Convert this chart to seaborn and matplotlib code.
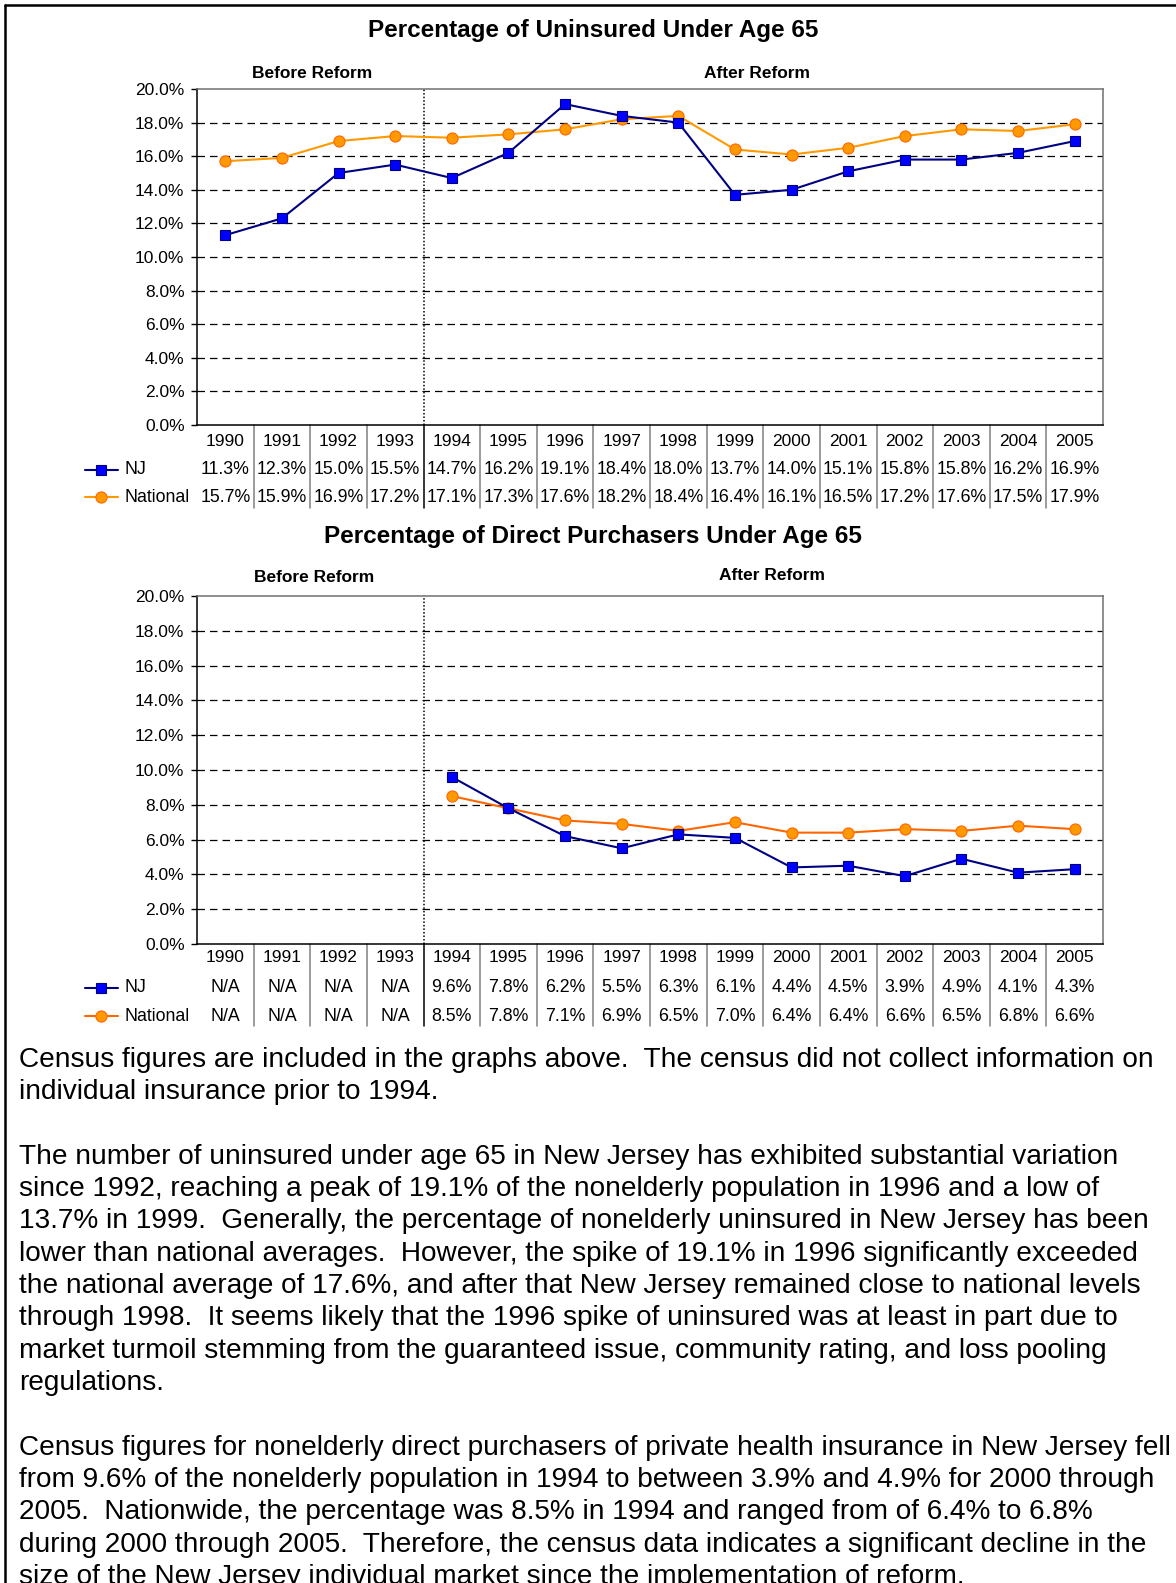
import numpy as np
import pandas as pd
import matplotlib.pyplot as plt
import seaborn as sns
from matplotlib.lines import Line2D
from matplotlib.transforms import blended_transform_factory

# ======================================================
# DATA
# ======================================================
years = [str(y) for y in range(1990, 2006)]

nj_uninsured = [11.3, 12.3, 15.0, 15.5, 14.7, 16.2, 19.1, 18.4,
                18.0, 13.7, 14.0, 15.1, 15.8, 15.8, 16.2, 16.9]
nat_uninsured = [15.7, 15.9, 16.9, 17.2, 17.1, 17.3, 17.6, 18.2,
                 18.4, 16.4, 16.1, 16.5, 17.2, 17.6, 17.5, 17.9]

nan = np.nan
nj_direct = [nan, nan, nan, nan, 9.6, 7.8, 6.2, 5.5,
             6.3, 6.1, 4.4, 4.5, 3.9, 4.9, 4.1, 4.3]
nat_direct = [nan, nan, nan, nan, 8.5, 7.8, 7.1, 6.9,
              6.5, 7.0, 6.4, 6.4, 6.6, 6.5, 6.8, 6.6]

series_names = ['NJ', 'National']

paragraphs = [
    ["Census figures are included in the graphs above.  The census did not collect information on",
     "individual insurance prior to 1994."],
    ["The number of uninsured under age 65 in New Jersey has exhibited substantial variation",
     "since 1992, reaching a peak of 19.1% of the nonelderly population in 1996 and a low of",
     "13.7% in 1999.  Generally, the percentage of nonelderly uninsured in New Jersey has been",
     "lower than national averages.  However, the spike of 19.1% in 1996 significantly exceeded",
     "the national average of 17.6%, and after that New Jersey remained close to national levels",
     "through 1998.  It seems likely that the 1996 spike of uninsured was at least in part due to",
     "market turmoil stemming from the guaranteed issue, community rating, and loss pooling",
     "regulations."],
    ["Census figures for nonelderly direct purchasers of private health insurance in New Jersey fell",
     "from 9.6% of the nonelderly population in 1994 to between 3.9% and 4.9% for 2000 through",
     "2005.  Nationwide, the percentage was 8.5% in 1994 and ranged from of 6.4% to 6.8%",
     "during 2000 through 2005.  Therefore, the census data indicates a significant decline in the",
     "size of the New Jersey individual market since the implementation of reform."],
]

# ======================================================
# STYLE
# ======================================================
sns.set_style('white')
plt.rcParams['font.family'] = ['Liberation Sans', 'DejaVu Sans']
plt.rcParams['text.color'] = 'black'
plt.rcParams['ytick.color'] = 'black'
plt.rcParams['xtick.color'] = 'black'
plt.rcParams['axes.labelcolor'] = 'black'

NJ_LINE = '#000080'
NJ_FACE = '#0000FF'
NAT_FACE = '#FF9900'
NAT_EDGE = '#FF6600'

W, H = 1176, 1583
fig = plt.figure(figsize=(W / 100, H / 100), dpi=100)


def fx(px):
    return px / W


def fy(py):
    return 1 - py / H


def fmt_val(v):
    return 'N/A' if np.isnan(v) else f'{v:.1f}%'


def draw_panel(title, nj, nat, nat_line, box, title_y, before_xy, after_xy,
               row_ys, table_bottom):
    left, top, right, bottom = box
    ax = fig.add_axes([fx(left), fy(bottom), (right - left) / W, (bottom - top) / H])

    df = pd.DataFrame({'x': np.arange(len(years)), 'NJ': nj, 'National': nat})

    # gridlines
    for v in range(2, 20, 2):
        ax.axhline(v, color='black', lw=0.9, ls=(0, (6, 4)), zorder=1)
    ax.axvline(3.5, color='black', lw=1.1, ls=(0, (1, 1.3)), zorder=2)

    sns.lineplot(data=df, x='x', y='NJ', ax=ax, color=NJ_LINE, lw=1.5,
                 marker='s', markersize=7.5, markerfacecolor=NJ_FACE,
                 markeredgecolor=NJ_LINE, markeredgewidth=0.8, zorder=4)
    sns.lineplot(data=df, x='x', y='National', ax=ax, color=nat_line, lw=1.5,
                 marker='o', markersize=8, markerfacecolor=NAT_FACE,
                 markeredgecolor=NAT_EDGE, markeredgewidth=0.8, zorder=3)

    ax.set_xlim(-0.5, len(years) - 0.5)
    ax.set_ylim(0, 20)
    ax.set_yticks(np.arange(0, 21, 2))
    ax.yaxis.set_major_formatter(lambda v, p: f'{v:.1f}%')
    ax.set_xticks([])
    ax.set_xlabel('')
    ax.set_ylabel('')
    ax.tick_params(axis='y', direction='out', length=4, width=1,
                   labelsize=12.5, pad=5, left=True, colors='black')
    for side in ['left', 'bottom']:
        ax.spines[side].set_color('black')
        ax.spines[side].set_linewidth(1.1)
    for side in ['top', 'right']:
        ax.spines[side].set_color('#707070')
        ax.spines[side].set_linewidth(1.1)

    # titles
    fig.text(fx(593), fy(title_y), title, ha='center', va='center',
             fontsize=17.5, fontweight='bold')
    fig.text(fx(before_xy[0]), fy(before_xy[1]), 'Before Reform', ha='center',
             va='center', fontsize=12.5, fontweight='bold')
    fig.text(fx(after_xy[0]), fy(after_xy[1]), 'After Reform', ha='center',
             va='center', fontsize=12.5, fontweight='bold')

    # data table
    trans = blended_transform_factory(ax.transData, fig.transFigure)
    for i, yr in enumerate(years):
        ax.text(i, fy(row_ys[0]), yr, transform=trans, ha='center', va='center',
                fontsize=12.5)
        ax.text(i, fy(row_ys[1]), fmt_val(nj[i]), transform=trans, ha='center',
                va='center', fontsize=12.8)
        ax.text(i, fy(row_ys[2]), fmt_val(nat[i]), transform=trans, ha='center',
                va='center', fontsize=12.8)
    for i in range(len(years) - 1):
        ax.plot([i + 0.5, i + 0.5], [fy(bottom), fy(table_bottom)], transform=trans,
                color='black' if i == 3 else '#808080', lw=1.1, clip_on=False)

    # legend keys
    keys = [(row_ys[1], NJ_LINE, 's', NJ_FACE, NJ_LINE, 7),
            (row_ys[2], nat_line, 'o', NAT_FACE, NAT_EDGE, 8)]
    for (ky, lc, mk, mf, me, ms), name in zip(keys, series_names):
        fig.add_artist(Line2D([fx(85), fx(118)], [fy(ky), fy(ky)], color=lc, lw=1.5))
        fig.add_artist(Line2D([fx(101)], [fy(ky)], marker=mk, markersize=ms,
                              markerfacecolor=mf, markeredgecolor=me,
                              markeredgewidth=0.8, lw=0))
        fig.text(fx(124), fy(ky), name, ha='left', va='center', fontsize=12.8)
    return ax


draw_panel('Percentage of Uninsured Under Age 65', nj_uninsured, nat_uninsured,
           '#FF9900', (197, 89, 1103, 425), 31, (312, 73), (757, 73),
           (441, 470, 497), 508)

draw_panel('Percentage of Direct Purchasers Under Age 65', nj_direct, nat_direct,
           '#FF6600', (197, 596, 1103, 944), 536, (314, 577), (772, 575),
           (958, 988, 1016), 1026)

# ======================================================
# PAGE BORDER
# ======================================================
fig.add_artist(Line2D([fx(5), fx(5)], [fy(5), 0], color='black', lw=1.8))
fig.add_artist(Line2D([fx(5), 1], [fy(5), fy(5)], color='black', lw=1.8))

# ======================================================
# BODY TEXT (size fitted to the first line width)
# ======================================================
probe = fig.text(fx(19), fy(1060), paragraphs[0][0], fontsize=20)
renderer = fig.canvas.get_renderer()
body_size = 20 * 1133 / probe.get_window_extent(renderer).width
probe.remove()

k = 0
for para in paragraphs:
    for line in para:
        fig.text(fx(19), fy(1060 + 32.3 * k), line, ha='left', va='center',
                 fontsize=body_size)
        k += 1
    k += 1

fig.savefig('out.png', dpi=100)
plt.close()
